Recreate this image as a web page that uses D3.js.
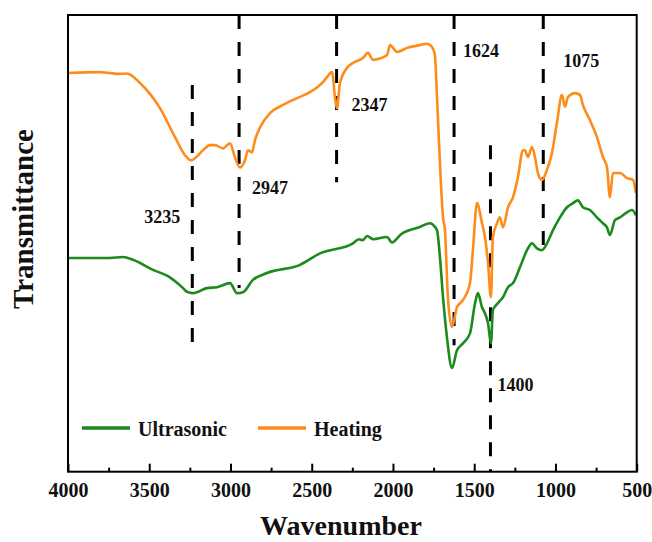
<!DOCTYPE html>
<html>
<head>
<meta charset="utf-8">
<script src="https://cdn.jsdelivr.net/npm/d3@7"></script>
<style>
  html, body { margin: 0; padding: 0; background: #fff; }
  svg { display: block; }
  text { font-family: "Liberation Serif", "Times New Roman", serif; font-weight: bold; fill: #111; }
</style>
</head>
<body>
<svg id="chart" width="652" height="542"></svg>
<script>
// FTIR spectra: wavenumber (cm-1) and transmittance (a.u.)
const heatingWave = [4000, 3803, 3742, 3692, 3637, 3557, 3434, 3342, 3280, 3243, 3169, 3126, 3095, 3046, 3003, 2972, 2942, 2911, 2892, 2868, 2849, 2818, 2757, 2677, 2591, 2511, 2431, 2406, 2375, 2357, 2345, 2326, 2283, 2246, 2185, 2154, 2123, 2037, 2018, 1975, 1914, 1834, 1791, 1760, 1742, 1729, 1711, 1692, 1680, 1662, 1637, 1606, 1569, 1526, 1508, 1483, 1452, 1434, 1415, 1397, 1385, 1360, 1342, 1323, 1292, 1261, 1231, 1200, 1188, 1169, 1145, 1126, 1108, 1083, 1052, 1022, 991, 960, 942, 923, 880, 849, 831, 788, 745, 708, 683, 665, 646, 603, 560, 523, 505];
const heatingT = [87.3, 87.5, 87.3, 87.1, 87.2, 85.1, 79.6, 73.3, 69.3, 68.2, 70.4, 71.5, 71.5, 70.8, 71.9, 68.8, 66.6, 68.2, 70.4, 69.9, 72.6, 75.4, 78.5, 80.3, 81.8, 83.1, 85.3, 86.4, 87.5, 82.0, 79.6, 85.1, 88.4, 89.5, 90.6, 91.7, 90.2, 91.2, 93.4, 91.9, 92.8, 93.4, 93.7, 93.0, 91.2, 82.0, 67.6, 55.7, 52.9, 38.2, 31.7, 36.0, 37.6, 41.3, 48.5, 58.8, 54.4, 51.4, 45.7, 38.2, 51.4, 54.4, 55.7, 53.5, 57.9, 60.1, 64.5, 70.4, 70.4, 68.9, 71.1, 68.9, 65.4, 63.9, 66.1, 69.7, 76.4, 82.5, 79.9, 82.0, 82.9, 82.5, 80.3, 77.0, 73.3, 68.9, 66.7, 60.1, 65.4, 65.4, 64.3, 63.9, 61.0];

const ultraWave = [4000, 3865, 3742, 3662, 3600, 3477, 3385, 3292, 3268, 3231, 3145, 3083, 3003, 2960, 2923, 2862, 2775, 2572, 2449, 2246, 2210, 2185, 2160, 2120, 2037, 2006, 1950, 1834, 1772, 1742, 1729, 1711, 1692, 1668, 1637, 1606, 1569, 1526, 1495, 1477, 1452, 1434, 1415, 1397, 1385, 1354, 1323, 1292, 1261, 1218, 1175, 1145, 1114, 1083, 1052, 1015, 972, 929, 892, 862, 831, 788, 745, 708, 683, 665, 634, 603, 560, 529, 505];
const ultraT = [46.8, 46.8, 46.8, 47.0, 46.4, 44.2, 42.8, 40.2, 39.4, 39.1, 40.2, 40.4, 41.3, 39.1, 39.3, 42.0, 43.5, 45.3, 47.8, 50.0, 50.9, 50.7, 51.6, 50.9, 51.4, 50.2, 52.0, 53.6, 54.4, 53.6, 52.9, 47.0, 38.2, 29.5, 22.7, 26.6, 28.1, 30.3, 36.9, 39.1, 36.0, 34.7, 32.5, 28.1, 35.4, 36.9, 38.2, 40.4, 41.3, 44.8, 48.5, 50.0, 48.9, 48.5, 50.0, 52.9, 55.7, 57.9, 58.8, 59.4, 57.9, 57.3, 55.7, 54.4, 53.5, 51.8, 55.1, 55.7, 56.8, 57.3, 56.2];

const seriesNames = ["Ultrasonic", "Heating"];
const xTicks = [4000, 3500, 3000, 2500, 2000, 1500, 1000, 500];
const xMinorTicks = [3750, 3250, 2750, 2250, 1750, 1250, 750];

// Marked absorption bands and the transmittance span of each guide line
const bandWave = [3235, 2947, 2347, 1624, 1075, 1400];
const bandTop = [84.7, 100, 100, 100, 100, 71.5];
const bandBottom = [26.2, 40.2, 63.4, 27.7, 48.5, 0];

const colors = { "Ultrasonic": "#1d8a1d", "Heating": "#ff8c1a" };

// Label placement for each band: [dx from the guide line, y in transmittance units, anchor]
const bandLabelPlace = [
  [-12, 54.4, "end"],
  [13, 60.8, "start"],
  [15, 79.0, "start"],
  [9, 90.8, "start"],
  [20, 88.6, "start"],
  [7, 17.7, "start"]
];

const plot = { left: 68, right: 636.7, top: 15, bottom: 471.7 };

const svg = d3.select("#chart");

const x = d3.scaleLinear().domain([4000, 500]).range([plot.left, plot.right]);
const y = d3.scaleLinear().domain([0, 100]).range([plot.bottom, plot.top]);

// Guide lines for bands
svg.append("g").selectAll("line")
  .data(bandWave)
  .join("line")
  .attr("x1", d => x(d)).attr("x2", d => x(d))
  .attr("y1", (d, i) => y(bandTop[i]))
  .attr("y2", (d, i) => y(bandBottom[i]))
  .attr("stroke", "#000")
  .attr("stroke-width", 3)
  .attr("stroke-dasharray", "14,13");

// Spectra
const line = d3.line().x(d => x(d[0])).y(d => y(d[1])).curve(d3.curveMonotoneX);
const series = [
  { name: "Ultrasonic", pts: d3.zip(ultraWave, ultraT) },
  { name: "Heating", pts: d3.zip(heatingWave, heatingT) }
];
svg.append("g").selectAll("path")
  .data(series)
  .join("path")
  .attr("d", d => line(d.pts))
  .attr("fill", "none")
  .attr("stroke", d => colors[d.name])
  .attr("stroke-width", 2.6)
  .attr("stroke-linejoin", "round");

// Band labels
svg.append("g").selectAll("text")
  .data(bandWave)
  .join("text")
  .attr("x", (d, i) => x(d) + bandLabelPlace[i][0])
  .attr("y", (d, i) => y(bandLabelPlace[i][1]))
  .attr("text-anchor", (d, i) => bandLabelPlace[i][2])
  .attr("font-size", 18)
  .text(d => d);

// Bottom axis: inward major ticks with labels, inward minor ticks
const axisG = svg.append("g").attr("transform", `translate(0,${plot.bottom})`);
axisG.call(d3.axisBottom(x).tickValues(xTicks).tickSizeInner(-8).tickSizeOuter(0).tickPadding(11).tickFormat(d3.format("d")));
axisG.select(".domain").remove();
axisG.selectAll(".tick line").attr("stroke", "#000").attr("stroke-width", 2);
axisG.selectAll(".tick text").attr("font-size", 20).attr("font-family", "Liberation Serif").attr("font-weight", "bold").attr("fill", "#111");

const minorG = svg.append("g").attr("transform", `translate(0,${plot.bottom})`);
minorG.call(d3.axisBottom(x).tickValues(xMinorTicks).tickSizeInner(-4).tickSizeOuter(0).tickFormat(""));
minorG.select(".domain").remove();
minorG.selectAll(".tick line").attr("stroke", "#000").attr("stroke-width", 2);

// Frame
svg.append("rect")
  .attr("x", plot.left).attr("y", plot.top)
  .attr("width", plot.right - plot.left).attr("height", plot.bottom - plot.top)
  .attr("fill", "none").attr("stroke", "#000").attr("stroke-width", 2);

// Axis titles
svg.append("text")
  .attr("x", 341).attr("y", 535)
  .attr("text-anchor", "middle")
  .attr("font-size", 28)
  .text("Wavenumber");

svg.append("text")
  .attr("transform", "translate(33,219) rotate(-90)")
  .attr("text-anchor", "middle")
  .attr("font-size", 29)
  .text("Transmittance");

// Legend
const legendItems = [
  { name: seriesNames[0], x0: 82 },
  { name: seriesNames[1], x0: 258 }
];
const lg = svg.append("g").selectAll("g").data(legendItems).join("g")
  .attr("transform", d => `translate(${d.x0},428)`);
lg.append("line").attr("x1", 0).attr("x2", 48).attr("y1", 0).attr("y2", 0)
  .attr("stroke", d => colors[d.name]).attr("stroke-width", 3.5);
lg.append("text").attr("x", 56).attr("y", 8).attr("font-size", 20).text(d => d.name);
</script>
</body>
</html>
